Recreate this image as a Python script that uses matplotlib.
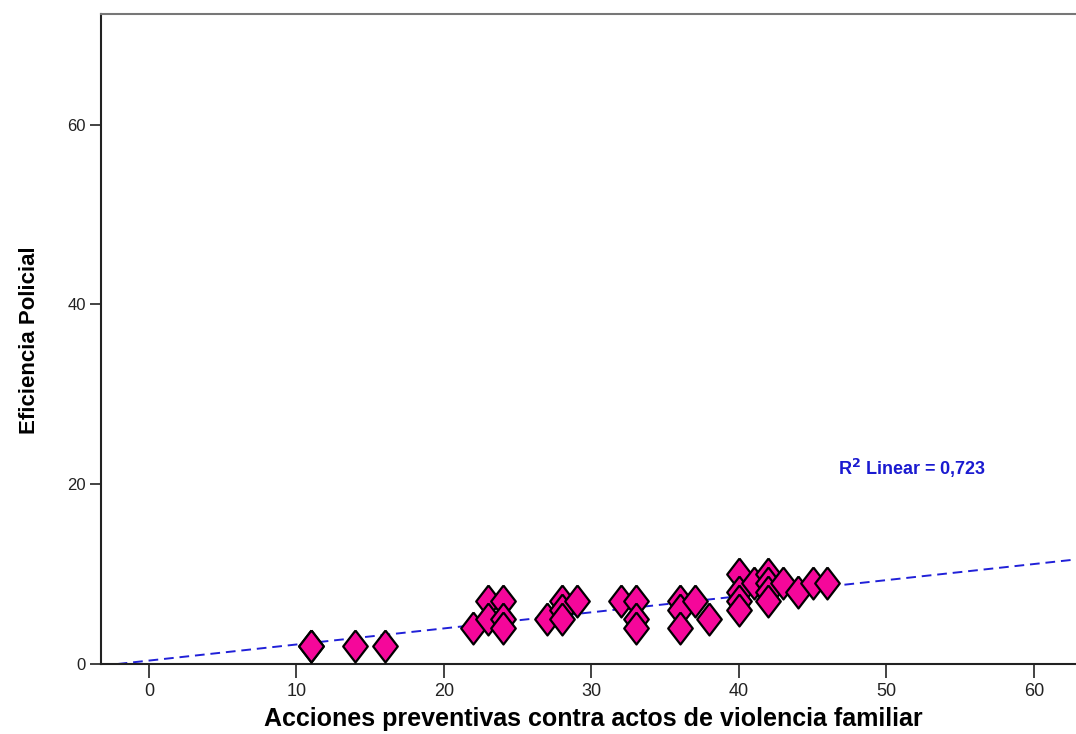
import matplotlib
matplotlib.use('Agg')
import matplotlib.pyplot as plt
import numpy as np

# data (x = acciones, y = eficiencia)
acciones = [11, 11, 14, 16,
            22, 23, 23, 24, 24, 24,
            27, 28, 28, 28, 29,
            32, 33, 33, 33,
            36, 36, 36, 37, 38,
            40, 40, 40, 40, 41,
            42, 42, 42, 42, 43, 44, 45, 46]
eficiencia = [2, 2, 2, 2,
              4, 7, 5, 7, 5, 4,
              5, 7, 6, 5, 7,
              7, 7, 5, 4,
              7, 6, 4, 7, 5,
              10, 8, 7, 6, 9,
              10, 9, 8, 7, 9, 8, 9, 9]

fit_slope = 0.179
fit_intercept = 0.38
r2_text = "R$^{\\mathbf{2}}$ Linear = 0,723"
x_ticks = [0, 10, 20, 30, 40, 50, 60]
y_ticks = [0, 20, 40, 60]

arial = ['Liberation Sans', 'DejaVu Sans']

fig = plt.figure(figsize=(10.76, 7.34), dpi=100)
ax = fig.add_axes([101 / 1076, 1 - 664 / 734, 1 - 101 / 1076, (664 - 14) / 734])

xmin, xmax = -3.25, 62.85
ax.set_xlim(xmin, xmax)
ax.set_ylim(0, 72.3)

# fit line, clipped at y = 0
x0 = -fit_intercept / fit_slope
xl = np.array([x0, xmax])
ax.plot(xl, fit_intercept + fit_slope * xl, linestyle=(0, (5, 3)),
        color="#2020d8", linewidth=1.4, zorder=2)

diamond = [(0, 1), (0.77, 0), (0, -1), (-0.77, 0), (0, 1)]
ax.plot(acciones, eficiencia, linestyle="none", marker=diamond,
        markersize=23, markerfacecolor="#f5079a", markeredgecolor="black",
        markeredgewidth=1.6, zorder=3, clip_on=False)

fig.text(838 / 1076, 1 - 468 / 734, r2_text, fontsize=13, fontweight="bold",
         color="#1a1ad0", family=arial, va="center", ha="left")

ax.set_xticks(x_ticks)
ax.set_yticks(y_ticks)
ax.set_xticklabels([str(v) for v in x_ticks], family=arial, fontsize=13)
ax.set_yticklabels([str(v) for v in y_ticks], family=arial, fontsize=12)
ax.tick_params(axis="x", direction="out", length=10, width=1.2, color="#222222",
               labelcolor="#222222", pad=4)
ax.tick_params(axis="y", direction="out", length=8, width=1.2, color="#222222",
               labelcolor="#222222", pad=3)

ax.spines["right"].set_visible(False)
ax.spines["top"].set_color("#777777")
ax.spines["top"].set_linewidth(1.5)
ax.spines["left"].set_linewidth(1.5)
ax.spines["bottom"].set_linewidth(1.5)
ax.spines["left"].set_color("#222222")
ax.spines["bottom"].set_color("#222222")

fig.text(593 / 1076, 1 - 719 / 734,
         "Acciones preventivas contra actos de violencia familiar",
         ha="center", va="center", fontsize=18, fontweight="bold", family=arial)
fig.text(30 / 1076, 1 - 340 / 734, "Eficiencia Policial", rotation=90,
         ha="center", va="center", fontsize=16, fontweight="bold", family=arial)

fig.savefig("out.png", dpi=100)
plt.close(fig)
